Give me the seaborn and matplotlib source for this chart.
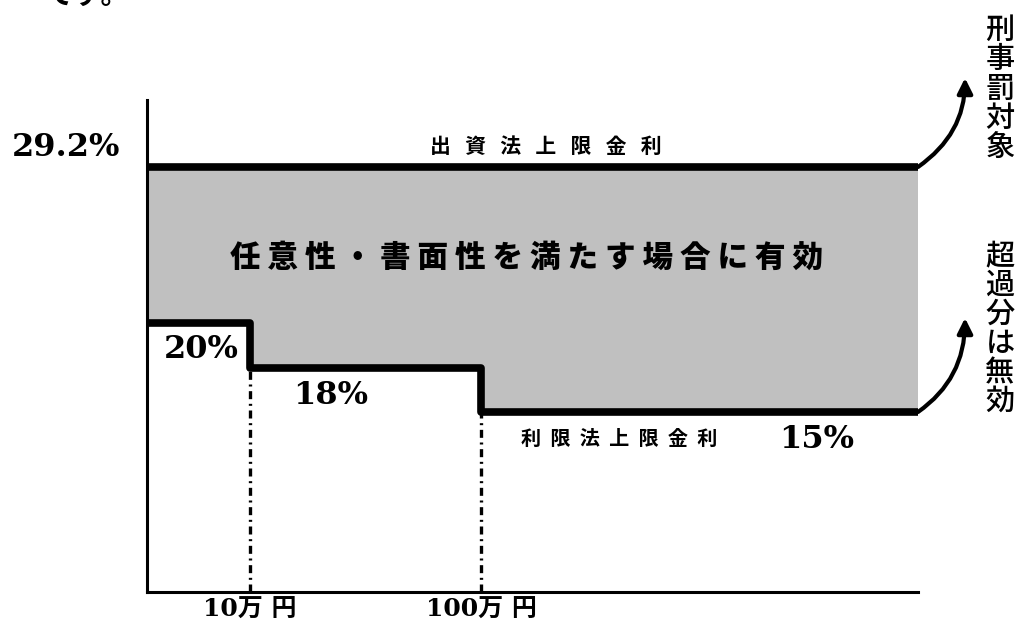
import numpy as np
import pandas as pd
import matplotlib.pyplot as plt
import seaborn as sns

# loan amount breakpoints (万円) and the legal rate limits (%)
amount_breaks = [0, 10, 100, 200]
limit_rates = [20, 18, 15, 15]
cap_rate = 29.2
tick_amounts = [10, 100]
tick_labels = ['10万 円', '100万 円']
rate_labels = ['20%', '18%', '15%']

sns.set_style('white')
plt.rcParams['font.family'] = ['Noto Sans CJK JP', 'DejaVu Sans']
plt.rcParams['text.color'] = 'black'
plt.rcParams['xtick.color'] = 'black'
serif = ['DejaVu Serif', 'Noto Sans CJK JP']
dpi = 100

steps = pd.DataFrame({'amount': amount_breaks, 'rate': limit_rates})
top = pd.DataFrame({'amount': [amount_breaks[0], amount_breaks[-1]], 'rate': [cap_rate, cap_rate]})

fig = plt.figure(figsize=(10.18, 6.23), dpi=dpi)
ax = fig.add_axes([147 / 1018, 31 / 623, 771 / 1018, 492 / 623])

# schematic (not to scale) axes, as in the original diagram
xs_in, xs_out = [0, 10, 100, 200], [0, 103, 334, 771]
ys_in, ys_out = [0, 15, 18, 20, 29.2, 33], [0, 180, 224, 269, 425, 492]

ax.fill_between(steps['amount'], steps['rate'], cap_rate, step='post', color='#c0c0c0', lw=0, zorder=1)
sns.lineplot(data=steps, x='amount', y='rate', ax=ax, color='black', lw=5.5,
             drawstyle='steps-post', solid_joinstyle='round', solid_capstyle='round', zorder=3)
sns.lineplot(data=top, x='amount', y='rate', ax=ax, color='black', lw=5.5,
             solid_capstyle='round', zorder=3)

for amt, r in zip(amount_breaks[1:3], limit_rates[1:3]):
    ax.plot([amt, amt], [0, r], color='black', lw=2.4, linestyle=(0, (2.4, 1.4, 0.6, 1.4)), zorder=2)

ax.set_xscale('function', functions=(lambda v: np.interp(v, xs_in, xs_out), lambda v: np.interp(v, xs_out, xs_in)))
ax.set_yscale('function', functions=(lambda v: np.interp(v, ys_in, ys_out), lambda v: np.interp(v, ys_out, ys_in)))
ax.set_xlim(0, 200)
ax.set_ylim(0, 33)

sns.despine(ax=ax)
for s in ['left', 'bottom']:
    ax.spines[s].set_linewidth(2.2)
    ax.spines[s].set_color('black')
ax.set_yticks([])
ax.set_xticks(tick_amounts)
ax.set_xticklabels(tick_labels, family=serif, fontweight='bold', fontsize=18)
ax.tick_params(axis='x', length=0, pad=4)
ax.set(xlabel='', ylabel='')

px = 72 / dpi  # pixels -> points
num = dict(textcoords='offset points', family=serif, fontweight='bold', fontsize=23,
           va='center', annotation_clip=False)

ax.annotate('29.2%', xy=(0, cap_rate), xytext=(-27 * px, 19 * px), ha='right', **num)
ax.annotate(rate_labels[0], xy=(0, limit_rates[0]), xytext=(54 * px, -27 * px), ha='center', **num)
ax.annotate(rate_labels[1], xy=(10, limit_rates[1]), xytext=(81 * px, -27 * px), ha='center', **num)
ax.annotate(rate_labels[2], xy=(200, limit_rates[2]), xytext=(-101 * px, -28 * px), ha='center', **num)

jp = dict(textcoords='offset points', fontweight='bold', ha='center', va='center', annotation_clip=False)
ax.annotate('   '.join('出資法上限金利'), xy=(100, cap_rate), xytext=(65 * px, 21 * px), fontsize=15, **jp)
ax.annotate('  '.join('利限法上限金利'), xy=(100, limit_rates[2]), xytext=(138 * px, -26 * px), fontsize=14.5, **jp)
ax.annotate(' '.join('任意性・書面性を満たす場合に有効'), xy=(100, cap_rate),
            xytext=(46 * px, -90 * px), fontsize=22, fontweight='heavy',
            textcoords='offset points', ha='center', va='center')

# curved arrows leaving the right end of both limit lines
for r, rise in [(cap_rate, 89), (limit_rates[-1], 94)]:
    ax.annotate('', xy=(200, r), xytext=(47 * px, rise * px), textcoords='offset points',
                annotation_clip=False,
                arrowprops=dict(arrowstyle='<|-,head_length=0.9,head_width=0.45', color='black', lw=3,
                                shrinkA=0, shrinkB=0, connectionstyle='angle3,angleA=90,angleB=35'))

fig.text(1000 / 1018, 1 - 89 / 623, '\n'.join('刑事罰対象'), ha='center', va='center',
         fontsize=21, fontweight='medium', linespacing=0.92)
fig.text(1000 / 1018, 1 - 329 / 623, '\n'.join('超過分は無効'), ha='center', va='center',
         fontsize=21, fontweight='medium', linespacing=0.92)

# tail of the preceding sentence, cut off at the top edge
fig.text(45 / 1018, 1 + 4 / 623, 'です。', ha='left', va='center', fontsize=20, fontweight='bold')

fig.savefig('out.png', dpi=dpi)
